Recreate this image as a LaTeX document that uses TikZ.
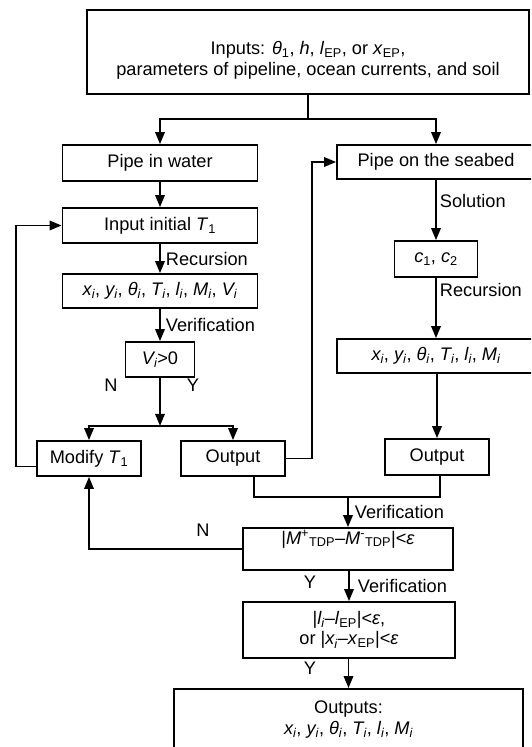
\documentclass[tikz,border=0pt]{standalone}
\usepackage{fontspec}
\setmainfont{Liberation Sans}
\usetikzlibrary{arrows.meta}

\begin{document}
\begin{tikzpicture}[x=1pt,y=-1pt,line width=1.8pt,font=\fontsize{18.2}{20.5}\selectfont,
    box/.style={draw,inner sep=2pt,minimum height=35pt},
    arr/.style={-{Triangle[length=12pt,width=9.5pt]}}]
  \path[use as bounding box] (0,0) rectangle (531,747);
  \clip (0,0) rectangle (531,747);
  % inputs
  \node[box,minimum width=442pt,minimum height=84pt,align=center] (inputs) at (308,52)
    {\rule{0pt}{30pt}Inputs: \textit{θ}\textsubscript{1}, \textit{h}, \textit{l}\textsubscript{EP}, or \textit{x}\textsubscript{EP},\\
     parameters of pipeline, ocean currents, and soil};
  \draw (inputs.south) -- ++(0,24) coordinate (split);

  % pipe in water
  \node[box,minimum width=195pt,minimum height=36pt] (water) at (160,163) {Pipe in water};
  \node[box,minimum width=195pt] (init) at (160,225.5) {Input initial \textit{T}\textsubscript{1}};
  \node[box,minimum width=195pt,minimum height=34pt] (xiL) at (160,291)
    {\textit{x\textsubscript{i}}, \textit{y\textsubscript{i}}, \textit{θ\textsubscript{i}}, \textit{T\textsubscript{i}}, \textit{l\textsubscript{i}}, \textit{M\textsubscript{i}}, \textit{V\textsubscript{i}}};
  \node[box,minimum width=69pt] (vi) at (160,359.5) {\textit{V\textsubscript{i}}>0};
  \node[box,minimum width=104pt] (modify) at (89,458.5) {Modify \textit{T}\textsubscript{1}};
  \node[box,minimum width=104pt] (outL) at (233,458.5) {Output};

  % pipe on the seabed
  \node[box,minimum width=198pt,minimum height=34pt] (seabed) at (436,162) {Pipe on the seabed};
  \node[box,minimum width=83pt,minimum height=36pt] (c12) at (436,259)
    {\textit{c}\textsubscript{1}, \textit{c}\textsubscript{2}};
  \node[box,minimum width=198pt,minimum height=34pt] (xiR) at (436,356)
    {\textit{x\textsubscript{i}}, \textit{y\textsubscript{i}}, \textit{θ\textsubscript{i}}, \textit{T\textsubscript{i}}, \textit{l\textsubscript{i}}, \textit{M\textsubscript{i}}};
  \node[box,minimum width=104pt,minimum height=36pt] (outR) at (437,457) {Output};

  % checks
  \node[box,minimum width=210pt,text height=11pt,text depth=21pt,inner sep=5pt] (mbox) at (348,549)
    {|\textit{M}\textsuperscript{+}\textsubscript{TDP}–\textit{M}\textsuperscript{-}\textsubscript{TDP}|<\textit{ε}};
  \node[box,minimum width=212pt,minimum height=56pt,align=center] (lbox) at (349,630)
    {|\textit{l\textsubscript{i}}–\textit{l}\textsubscript{EP}|<\textit{ε},\\
     or |\textit{x\textsubscript{i}}–\textit{x}\textsubscript{EP}|<\textit{ε}};
  \node[box,minimum width=349pt,inner ysep=12pt,text depth=40pt,anchor=north,align=center] (outs) at (348.5,688)
    {Outputs:\\
     \textit{x\textsubscript{i}}, \textit{y\textsubscript{i}}, \textit{θ\textsubscript{i}}, \textit{T\textsubscript{i}}, \textit{l\textsubscript{i}}, \textit{M\textsubscript{i}}};

  % connectors
  \draw[arr] (split) -| (water.north);
  \draw[arr] (split) -| (seabed.north);
  \draw[arr] (water) -- (init);
  \draw[arr] (init) -- node[right,inner sep=5pt]{Recursion} (xiL);
  \draw[arr] (xiL) -- node[right,inner sep=5pt]{Verification} (vi);
  \draw[arr] (vi.south) -- ++(0,48) coordinate (fork);
  \draw[arr] (fork) -| (modify.north);
  \draw[arr] (fork) -| (outL.north);
  \node at (111,385) {N};
  \node at (193,385) {Y};
  \draw[arr] (outL.east) -- ++(26,0) |- (seabed.west);
  \draw[arr] ([yshift=-8pt]modify.west) -- ++(-20,0) |- (init.west);

  \draw[arr] (seabed) -- node[right,pos=0.35,inner sep=3pt]{Solution} (c12);
  \draw[arr] (c12) -- node[right,pos=0.2,inner sep=3pt]{Recursion} (xiR);
  \draw[arr] (xiR.south -| outR.north) -- (outR.north);

  \draw ([xshift=21pt]outL.south) |- (mbox.north |- 0,497) coordinate (merge) -| ([xshift=3pt]outR.south);
  \draw[arr] (merge) -- node[right,inner sep=6pt]{Verification} (mbox.north);
  \draw[arr] (mbox.west) -| (modify.south);
  \node at (203,530) {N};
  \draw[arr] (mbox.south -| lbox.north) -- node[right,inner sep=8pt]{Verification} (lbox.north);
  \node at (310,582) {Y};
  \draw[arr] (lbox.south -| outs.north) -- (outs.north);
  \node at (310,668) {Y};
\end{tikzpicture}
\end{document}
